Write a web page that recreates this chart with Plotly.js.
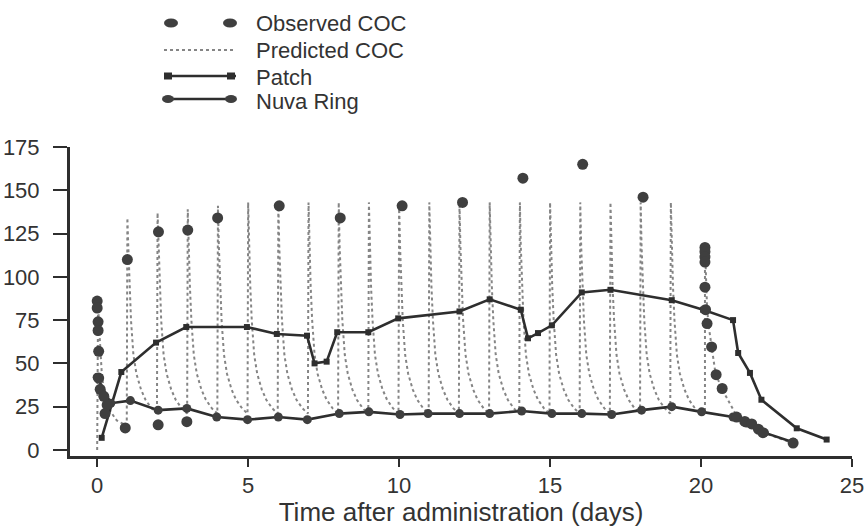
<!DOCTYPE html>
<html>
<head>
<meta charset="utf-8">
<script src="https://cdn.plot.ly/plotly-3.0.1.min.js"></script>
<style>
  html, body { margin: 0; padding: 0; background: #fff; }
  #chart { width: 867px; height: 527px; }
</style>
</head>
<body>
<div id="chart"></div>
<script>
// ---------- Data ----------
// Observed COC (markers only)
const obsX = [0, 0, 0.03, 0.03, 0.05, 0.05, 0.1, 0.22, 0.33, 0.26,
              0.93, 1.0, 2.02, 2.03, 2.97, 3.0, 3.99, 6.03, 8.05, 10.1, 12.1, 14.1, 16.08, 18.08,
              20.13, 20.13, 20.13, 20.13, 20.13, 20.15, 20.2, 20.35, 20.5, 20.7,
              21.18, 21.45, 21.68, 21.9, 22.05, 23.05];
const obsY = [86, 82, 74, 69, 57, 41.5, 35, 31, 26, 21,
              12.7, 110, 14.5, 126, 16.3, 127, 134, 141, 134, 141, 143, 157, 165, 146,
              117, 114.5, 111.5, 108.5, 94, 81, 73, 59.5, 43.5, 35.5,
              19, 16.5, 15, 12, 10, 4];

// Predicted COC: first dose (day 0)
const predStartX = [0, 0.03, 0.06, 0.1, 0.15, 0.22, 0.3, 0.45, 0.65, 0.98];
const predStartY = [0, 86, 72, 58, 45, 34, 28, 22, 17, 14];
// Predicted COC: daily doses, peak heights
const predDoseDays = [1, 2, 3, 4, 5, 6, 7, 8, 9, 10, 11, 12, 13, 14, 15, 16, 17, 18, 19];
const predPeaks    = [134, 137, 139, 141, 143, 144, 143, 143, 143, 143, 143, 143, 143, 143, 143, 143, 143, 143, 143];
// Predicted COC: decay after each daily dose (time after dose, concentration)
const predDecayDt   = [0.03, 0.07, 0.12, 0.2, 0.3, 0.45, 0.6, 0.8, 0.98];
const predDecayConc = [118, 95, 75, 55, 44, 35, 29, 24, 21];
// Predicted COC: last dose (day 20) and wash-out
const predEndX = [20.13, 20.13, 20.2, 20.25, 20.35, 20.48, 20.7, 21.0, 21.2, 21.7, 22.05, 23.05];
const predEndY = [21, 118, 82, 72, 60, 44, 35, 25, 19, 14, 10, 4];

// Patch
const patchX = [0.15, 0.8, 1.95, 2.95, 4.96, 5.95, 6.95, 7.2, 7.6, 7.95, 8.98, 9.97, 12.0, 13.0,
                14.03, 14.27, 14.6, 15.06, 16.05, 17.0, 19.03, 20.07, 21.06, 21.23, 21.62, 22.0, 23.17, 24.16];
const patchY = [7, 45, 62, 71, 71, 67, 66, 50, 51, 68, 68, 76, 80, 87,
                81, 64.5, 67.5, 72, 91, 92.5, 86.5, 81, 75, 56, 44.5, 29, 12.5, 6];

// Nuva Ring
const ringX = [0, 0.45, 1.1, 2.02, 2.97, 3.96, 4.98, 6.0, 6.96, 8.02, 9.0, 10.03, 10.96, 12.0, 13.0,
               14.06, 15.06, 16.05, 17.04, 18.03, 19.03, 20.02, 21.06, 21.5, 22.1, 23.05];
const ringY = [42, 27, 28.5, 23, 24, 19, 17.5, 19, 17.5, 21, 22, 20.5, 21, 21, 21,
               22.5, 21, 21, 20.5, 23, 25, 22, 19, 15.5, 10, 4.5];

const xTicks = [0, 5, 10, 15, 20, 25];
const yTicks = [0, 25, 50, 75, 100, 125, 150, 175];

const legendLabels = ["Observed COC", "Predicted COC", "Patch", "Nuva Ring"];

// ---------- Build predicted curve from read values ----------
const predX = predStartX.slice();
const predY = predStartY.slice();
predDoseDays.forEach((d, i) => {
  predX.push(d); predY.push(predPeaks[i]);
  predDecayDt.forEach((dt, k) => { predX.push(d + dt); predY.push(predDecayConc[k]); });
});
predEndX.forEach((x, i) => { predX.push(x); predY.push(predEndY[i]); });

// ---------- Styling ----------
const dark = '#2e2e2e';
const markerDark = '#3f3f3f';
const predColor = '#858585';
const fontFam = '"Liberation Sans", Arial, sans-serif';

const traces = [
  { x: predX, y: predY, mode: 'lines', name: legendLabels[1], showlegend: false,
    line: { color: predColor, width: 2, dash: 'dot' }, hoverinfo: 'skip' },
  { x: patchX, y: patchY, mode: 'lines+markers', name: legendLabels[2], showlegend: false,
    line: { color: dark, width: 2.6 }, marker: { symbol: 'square', size: 6, color: dark } },
  { x: ringX, y: ringY, mode: 'lines+markers', name: legendLabels[3], showlegend: false,
    line: { color: dark, width: 2.6 }, marker: { symbol: 'circle', size: 9, color: markerDark } },
  { x: obsX, y: obsY, mode: 'markers', name: legendLabels[0], showlegend: false,
    marker: { symbol: 'circle', size: 11, color: markerDark } }
];

// Plot area in pixels (for placing the hand-drawn legend in paper coordinates)
const L = 70, R = 15, T = 147, B = 71, W = 867, H = 527;
const pw = W - L - R, ph = H - T - B;
const px = (x) => (x - L) / pw;
const py = (y) => (H - B - y) / ph;

const shapes = [];
const annotations = [];
// Legend row positions (pixels)
const legRows = [23, 50, 76, 100];
const legBoxH = [21, 21, 21, 27];
const legTextY = [24, 51, 77, 101];
const legX0 = 164, legX1 = 236, textX = 255;
// Observed: two ovals
[171, 230].forEach(cx => {
  shapes.push({ type: 'circle', xref: 'paper', yref: 'paper',
    x0: px(cx - 7), x1: px(cx + 7), y0: py(legRows[0] + 4.5), y1: py(legRows[0] - 4.5),
    fillcolor: markerDark, line: { width: 0 } });
});
// Predicted: dotted line
shapes.push({ type: 'line', xref: 'paper', yref: 'paper',
  x0: px(legX0), x1: px(legX1), y0: py(legRows[1]), y1: py(legRows[1]),
  line: { color: predColor, width: 1.8, dash: 'dot' } });
// Patch: line + squares
shapes.push({ type: 'line', xref: 'paper', yref: 'paper',
  x0: px(legX0), x1: px(legX1), y0: py(legRows[2]), y1: py(legRows[2]),
  line: { color: dark, width: 2.6 } });
[168, 231].forEach(cx => {
  shapes.push({ type: 'rect', xref: 'paper', yref: 'paper',
    x0: px(cx - 4), x1: px(cx + 4), y0: py(legRows[2] + 3.5), y1: py(legRows[2] - 3.5),
    fillcolor: dark, line: { width: 0 } });
});
// Nuva Ring: line + ovals
shapes.push({ type: 'line', xref: 'paper', yref: 'paper',
  x0: px(legX0), x1: px(legX1), y0: py(legRows[3] - 1), y1: py(legRows[3] - 1),
  line: { color: dark, width: 2.6 } });
[168, 231].forEach(cx => {
  shapes.push({ type: 'circle', xref: 'paper', yref: 'paper',
    x0: px(cx - 6), x1: px(cx + 6), y0: py(legRows[3] + 3), y1: py(legRows[3] - 5),
    fillcolor: markerDark, line: { width: 0 } });
});
legendLabels.forEach((t, i) => {
  annotations.push({ xref: 'paper', yref: 'paper', x: px(textX), y: py(legTextY[i]),
    text: t, showarrow: false, xanchor: 'left', yanchor: 'middle',
    height: legBoxH[i], borderpad: 0,
    font: { family: fontFam, size: 22, color: '#333' } });
});

const layout = {
  width: W, height: H,
  margin: { l: L, r: R, t: T, b: B, pad: 0 },
  paper_bgcolor: '#fff', plot_bgcolor: '#fff',
  font: { family: fontFam, size: 22, color: '#333' },
  showlegend: false,
  xaxis: {
    range: [-0.9, 25], tickvals: xTicks, ticktext: xTicks.map(String),
    showgrid: false, zeroline: false, showline: true, linecolor: dark, linewidth: 3,
    ticks: 'outside', ticklen: 8, tickwidth: 2, tickcolor: dark,
    ticklabelstandoff: 0,
    tickfont: { family: fontFam, size: 22, color: '#333' },
    title: { text: 'Time after administration (days)', standoff: 5,
             font: { family: fontFam, size: 26, color: '#333' } }
  },
  yaxis: {
    range: [-3.5, 175], tickvals: yTicks, ticktext: yTicks.map(String),
    showgrid: false, zeroline: false, showline: true, linecolor: dark, linewidth: 3,
    ticks: 'outside', ticklen: 14, tickwidth: 2, tickcolor: dark,
    ticklabelstandoff: 9,
    tickfont: { family: fontFam, size: 22, color: '#333' }
  },
  shapes: shapes,
  annotations: annotations
};

Plotly.newPlot('chart', traces, layout, { displayModeBar: false, staticPlot: true });
</script>
</body>
</html>
